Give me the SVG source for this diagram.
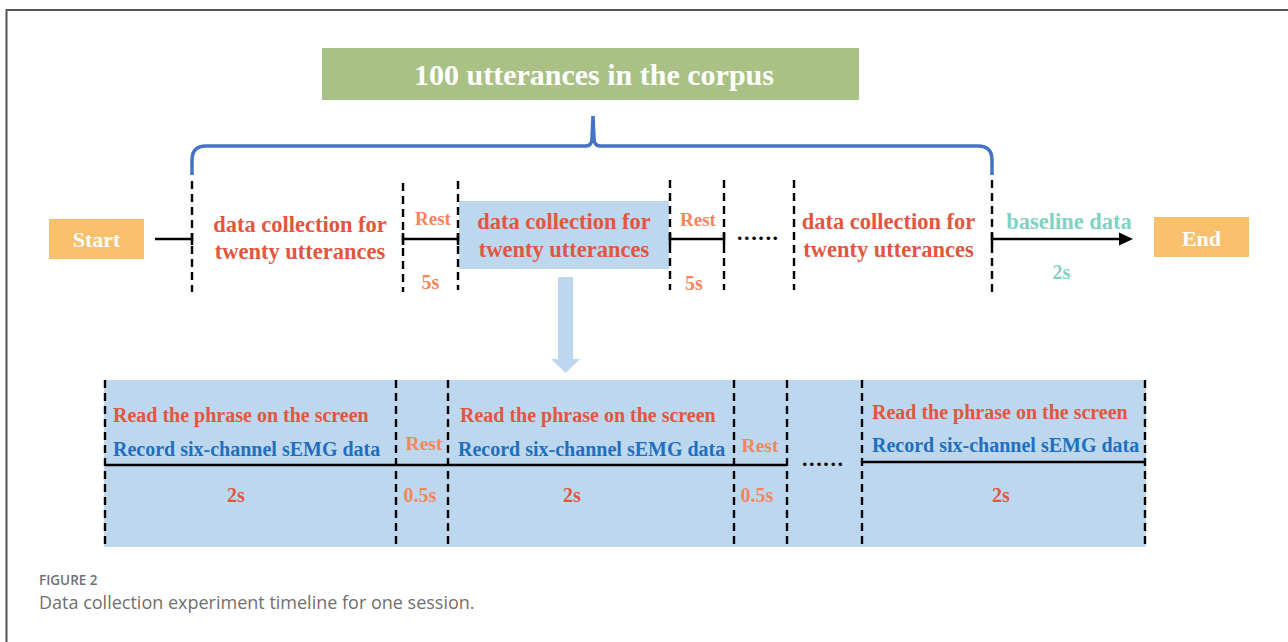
<svg xmlns="http://www.w3.org/2000/svg" width="1288" height="642" viewBox="0 0 1288 642">
<style>
.t{font-family:"Liberation Serif","Times New Roman",serif;font-weight:bold;}
.red{fill:#E2563F;}
.org{fill:#F5865B;}
.blu{fill:#1F6FC1;}
.teal{fill:#80D2C3;}
.wh{fill:#ffffff;}
.dash{stroke:#000;stroke-width:2.4;stroke-dasharray:8 5;fill:none;}
.ln{stroke:#000;stroke-width:2.5;fill:none;}
.cap{font-family:"Open Sans","Liberation Sans",sans-serif;}
</style>
<rect width="1288" height="642" fill="#ffffff"/>
<path d="M6.5,642 L6.5,10 L1288,10" fill="none" stroke="#555" stroke-width="2"/>

<g id="corpus">
<rect x="322" y="48" width="537" height="52" fill="#A9C185"/>
<text class="t wh" x="594" y="85" font-size="30" text-anchor="middle">100 utterances in the corpus</text>
</g>

<g id="brace">
<path d="M192,175 L192,160 Q192,146 206,146 L586,146 Q592,146 592,138 L593,116 L594,138 Q594,146 600,146 L978,146 Q992,146 992,160 L992,175" fill="none" stroke="#4472C4" stroke-width="3.5"/>
</g>

<g id="start">
<rect x="49" y="219" width="95" height="40" fill="#F8BF6D"/>
<text class="t wh" x="96.5" y="247" font-size="22" text-anchor="middle">Start</text>
</g>
<g id="end">
<rect x="1154" y="217" width="95" height="40" fill="#F8BF6D"/>
<text class="t wh" x="1201.5" y="246" font-size="22" text-anchor="middle">End</text>
</g>

<g id="block1">
<text class="t red" x="300" y="232" font-size="22.5" text-anchor="middle">data collection for</text>
<text class="t red" x="300" y="259" font-size="22.5" text-anchor="middle">twenty utterances</text>
</g>
<g id="rest1">
<text class="t org" x="433" y="225" font-size="19" text-anchor="middle">Rest</text>
<text class="t org" x="430.5" y="289" font-size="20" text-anchor="middle">5s</text>
</g>
<g id="block2">
<rect x="459" y="201" width="210" height="68" fill="#BDD7EE"/>
<text class="t red" x="564" y="229" font-size="22.5" text-anchor="middle">data collection for</text>
<text class="t red" x="564" y="257" font-size="22.5" text-anchor="middle">twenty utterances</text>
</g>
<g id="rest2">
<text class="t org" x="698" y="226" font-size="19" text-anchor="middle">Rest</text>
<text class="t org" x="694" y="290" font-size="20" text-anchor="middle">5s</text>
</g>
<g id="dots1">
<text class="t" x="737" y="240" font-size="22" textLength="41" lengthAdjust="spacing">......</text>
</g>
<g id="block3">
<text class="t red" x="888.5" y="229" font-size="22.5" text-anchor="middle">data collection for</text>
<text class="t red" x="888.5" y="257" font-size="22.5" text-anchor="middle">twenty utterances</text>
</g>
<g id="baseline">
<text class="t teal" x="1069" y="229" font-size="22.5" text-anchor="middle">baseline data</text>
<text class="t teal" x="1061.5" y="279" font-size="20" text-anchor="middle">2s</text>
</g>

<g id="connectors">
<line class="dash" x1="192" y1="181" x2="192" y2="292"/>
<line class="dash" x1="403" y1="183" x2="403" y2="292"/>
<line class="dash" x1="458" y1="181" x2="458" y2="290"/>
<line class="dash" x1="670" y1="180" x2="670" y2="290"/>
<line class="dash" x1="724" y1="180" x2="724" y2="290"/>
<line class="dash" x1="794" y1="180" x2="794" y2="290"/>
<line class="dash" x1="992" y1="180" x2="992" y2="292"/>
<line class="ln" x1="155" y1="239" x2="192" y2="239"/>
<line class="ln" x1="192" y1="233" x2="192" y2="245"/>
<line class="ln" x1="403" y1="239" x2="458" y2="239"/>
<line class="ln" x1="403" y1="233" x2="403" y2="245"/>
<line class="ln" x1="458" y1="233" x2="458" y2="245"/>
<line class="ln" x1="670" y1="239" x2="724" y2="239"/>
<line class="ln" x1="670" y1="233" x2="670" y2="245"/>
<line class="ln" x1="724" y1="233" x2="724" y2="245"/>
<line class="ln" x1="992" y1="239" x2="1122" y2="239"/>
<line class="ln" x1="992" y1="233" x2="992" y2="245"/>
<polygon points="1119,232.5 1133,239 1119,245.5" fill="#000"/>
<polygon points="558,277 573,277 573,359 580,359 565.5,373 551,359 558,359" fill="#BDD7EE"/>
</g>

<g id="timeline">
<rect x="104" y="380" width="1042" height="167" fill="#BDD7EE"/>
<line class="dash" x1="105" y1="380" x2="105" y2="547"/>
<line class="dash" x1="396" y1="380" x2="396" y2="547"/>
<line class="dash" x1="448" y1="380" x2="448" y2="547"/>
<line class="dash" x1="734" y1="380" x2="734" y2="547"/>
<line class="dash" x1="787" y1="380" x2="787" y2="547"/>
<line class="dash" x1="862" y1="380" x2="862" y2="547"/>
<line class="dash" x1="1145" y1="380" x2="1145" y2="547"/>
<line class="ln" x1="105" y1="465" x2="787" y2="465"/>
<line class="ln" x1="863" y1="462" x2="1146" y2="462"/>
</g>
<g id="utt1">
<text class="t red" x="113" y="422" font-size="20">Read the phrase on the screen</text>
<text class="t blu" x="113" y="456" font-size="20">Record six-channel sEMG data</text>
<text class="t red" x="236" y="502" font-size="20" text-anchor="middle">2s</text>
</g>
<g id="urest1">
<text class="t org" x="424" y="450" font-size="19.5" text-anchor="middle">Rest</text>
<text class="t org" x="420" y="502" font-size="20" text-anchor="middle">0.5s</text>
</g>
<g id="utt2">
<text class="t red" x="460" y="422" font-size="20">Read the phrase on the screen</text>
<text class="t blu" x="458" y="456" font-size="20">Record six-channel sEMG data</text>
<text class="t red" x="572" y="502" font-size="20" text-anchor="middle">2s</text>
</g>
<g id="urest2">
<text class="t org" x="760" y="452" font-size="19.5" text-anchor="middle">Rest</text>
<text class="t org" x="757" y="502" font-size="20" text-anchor="middle">0.5s</text>
</g>
<g id="dots2">
<text class="t" x="802" y="466" font-size="22" textLength="41" lengthAdjust="spacing">......</text>
</g>
<g id="utt3">
<text class="t red" x="872" y="419" font-size="20">Read the phrase on the screen</text>
<text class="t blu" x="872" y="452" font-size="20">Record six-channel sEMG data</text>
<text class="t red" x="1001" y="502" font-size="20" text-anchor="middle">2s</text>
</g>

<g id="caption">
<text class="cap" x="39" y="585" font-size="13.5" font-weight="600" fill="#707070">FIGURE 2</text>
<text class="cap" x="39" y="609" font-size="18" fill="#6f6f6f">Data collection experiment timeline for one session.</text>
</g>
</svg>
